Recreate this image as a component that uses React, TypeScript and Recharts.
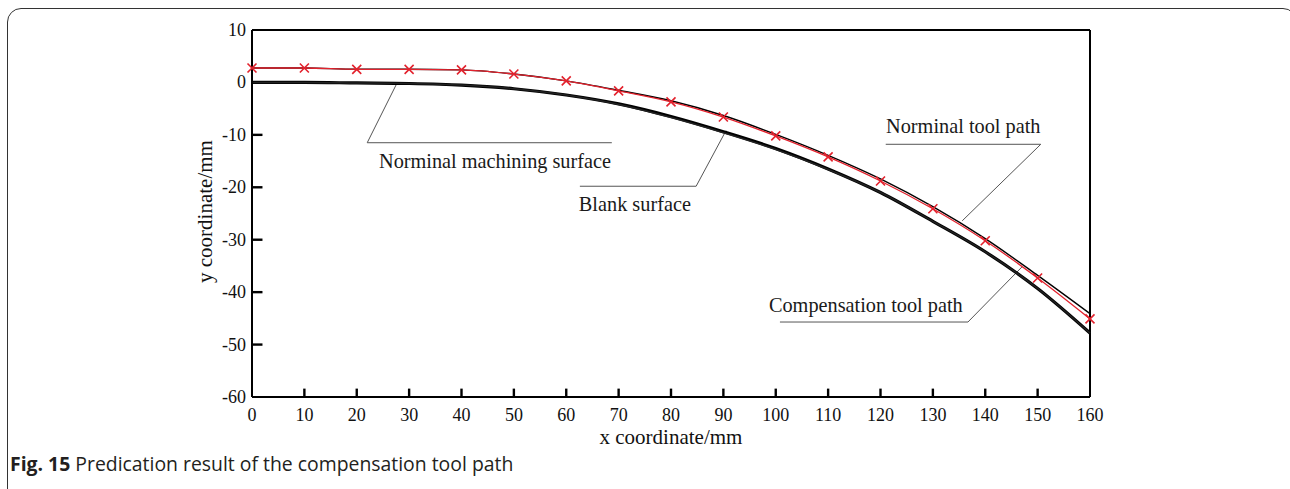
import { LineChart, Line, XAxis, YAxis, ReferenceLine, ReferenceDot, Label } from 'recharts'

const xValues = [0, 10, 20, 30, 40, 50, 60, 70, 80, 90, 100, 110, 120, 130, 140, 150, 160]
const xTicks = [0, 10, 20, 30, 40, 50, 60, 70, 80, 90, 100, 110, 120, 130, 140, 150, 160]
const yTicks = [10, 0, -10, -20, -30, -40, -50, -60]

// Norminal tool path (thin black)
const nominalToolPath = [2.75, 2.75, 2.5, 2.5, 2.4, 1.6, 0.3, -1.5, -3.5, -6.3, -9.9, -13.9, -18.4, -23.7, -29.8, -36.8, -44.1]
// Compensation tool path (red, x markers)
const compensationToolPath = [2.75, 2.75, 2.5, 2.5, 2.4, 1.6, 0.3, -1.6, -3.7, -6.6, -10.2, -14.2, -18.8, -24.1, -30.2, -37.3, -45.1]
// Blank surface (thick black)
const blankSurface = [0, 0, -0.1, -0.2, -0.5, -1.2, -2.4, -4.1, -6.5, -9.4, -12.6, -16.5, -21.0, -26.5, -32.3, -39.3, -47.8]
// Norminal machining surface (almost on top of the blank surface)
const machiningSurface = [0, 0, -0.1, -0.2, -0.5, -1.2, -2.4, -4.2, -6.7, -9.6, -12.8, -16.6, -21.0, -26.5, -32.3, -39.3, -47.8]

const data = xValues.map((x, i) => ({
  x,
  nominalTool: nominalToolPath[i],
  compensation: compensationToolPath[i],
  blank: blankSurface[i],
  machining: machiningSurface[i],
}))

const xMin = 0
const xMax = 160
const yMin = -60
const yMax = 10

// leader lines and labels, in data units
const annotations = [
  {
    text: 'Norminal machining surface',
    at: { x: 46.4, y: -14.9 },
    leader: [{ x: 27.7, y: -0.1 }, { x: 22.0, y: -11.5 }, { x: 68.7, y: -11.5 }],
  },
  {
    text: 'Blank surface',
    at: { x: 73.1, y: -23.1 },
    leader: [{ x: 90.5, y: -9.2 }, { x: 84.8, y: -19.8 }, { x: 62.6, y: -19.8 }],
  },
  {
    text: 'Norminal tool path',
    at: { x: 135.8, y: -8.4 },
    leader: [{ x: 121.0, y: -11.8 }, { x: 150.6, y: -11.8 }, { x: 135.6, y: -26.4 }],
  },
  {
    text: 'Compensation tool path',
    at: { x: 117.2, y: -42.4 },
    leader: [{ x: 100.8, y: -45.7 }, { x: 136.7, y: -45.7 }, { x: 147.0, y: -35.2 }],
  },
]

const serif = '"Liberation Serif", "Times New Roman", serif'

const XTick = (props: any) => {
  const { x, y, payload } = props
  return (
    <text x={x} y={y + 18} textAnchor="middle" dominantBaseline="central" fontSize={18} fontFamily={serif} fill="#111">
      {payload.value}
    </text>
  )
}

const YTick = (props: any) => {
  const { x, y, payload } = props
  return (
    <text x={x - 6} y={y} textAnchor="end" dominantBaseline="central" fontSize={18} fontFamily={serif} fill="#111">
      {payload.value}
    </text>
  )
}

const cross = (props: any) => {
  const { cx, cy, index } = props
  const s = 4.5
  return (
    <path
      key={`cross-${index}`}
      d={`M${cx - s},${cy - s}L${cx + s},${cy + s}M${cx - s},${cy + s}L${cx + s},${cy - s}`}
      stroke="#e3222d"
      strokeWidth={1.6}
      fill="none"
    />
  )
}

export default function App() {
  return (
    <div style={{ position: 'relative', width: 1290, height: 489, overflow: 'hidden', background: '#fff' }}>
      <style>{`body { margin: 0; }`}</style>
      <div
        style={{
          position: 'absolute',
          left: 7,
          top: 8,
          width: 1290,
          height: 500,
          border: '1.5px solid #333',
          borderRadius: 14,
          boxSizing: 'border-box',
        }}
      />
      <div style={{ position: 'absolute', left: 0, top: 0 }}>
        <LineChart width={1290} height={489} data={data} margin={{ top: 30, right: 200, bottom: 0, left: 0 }}>
          <XAxis
            dataKey="x"
            type="number"
            domain={[xMin, xMax]}
            ticks={xTicks}
            height={92}
            tickSize={0}
            tickMargin={0}
            tickLine={false}
            axisLine={{ stroke: '#000', strokeWidth: 2 }}
            tick={<XTick />}
            interval={0}
          >
            <Label
              content={(p: any) => {
                const vb = p.viewBox
                return (
                  <text x={vb.x + vb.width / 2} y={vb.y + 40} textAnchor="middle" dominantBaseline="central" fontSize={21} fontFamily={serif} fill="#111">
                    x coordinate/mm
                  </text>
                )
              }}
            />
          </XAxis>
          <YAxis
            type="number"
            domain={[yMin, yMax]}
            ticks={yTicks}
            width={252}
            tickSize={0}
            tickMargin={0}
            tickLine={false}
            axisLine={{ stroke: '#000', strokeWidth: 2 }}
            tick={<YTick />}
            interval={0}
          >
            <Label
              content={(p: any) => {
                const vb = p.viewBox
                const cx = vb.x + vb.width - 47
                const cy = vb.y + vb.height / 2 - 2
                return (
                  <text x={cx} y={cy} transform={`rotate(-90 ${cx} ${cy})`} textAnchor="middle" dominantBaseline="central" fontSize={21} fontFamily={serif} fill="#111">
                    y coordinate/mm
                  </text>
                )
              }}
            />
          </YAxis>
          {/* top and right sides of the frame */}
          <ReferenceLine y={yMax} stroke="#000" strokeWidth={2} ifOverflow="visible" />
          <ReferenceLine x={xMax} stroke="#000" strokeWidth={2} ifOverflow="visible" />
          {/* inward tick marks */}
          {xTicks.slice(1, -1).map(v => (
            <ReferenceLine
              key={`xt-${v}`}
              segment={[{ x: v, y: yMin }, { x: v, y: yMin + 1.6 }]}
              stroke="#000"
              strokeWidth={2.4}
              ifOverflow="visible"
            />
          ))}
          {yTicks.slice(1, -1).map(v => (
            <ReferenceLine
              key={`yt-${v}`}
              segment={[{ x: xMin, y: v }, { x: xMin + 2, y: v }]}
              stroke="#000"
              strokeWidth={2.4}
              ifOverflow="visible"
            />
          ))}
          {annotations.map((a, i) =>
            a.leader.slice(1).map((pt, j) => (
              <ReferenceLine
                key={`lead-${i}-${j}`}
                segment={[a.leader[j], pt]}
                stroke="#555"
                strokeWidth={1}
                ifOverflow="visible"
              />
            ))
          )}
          {annotations.map((a, i) => (
            <ReferenceDot
              key={`txt-${i}`}
              x={a.at.x}
              y={a.at.y}
              ifOverflow="visible"
              shape={(p: any) => (
                <text x={p.cx} y={p.cy} textAnchor="middle" dominantBaseline="central" fontSize={20.3} fontFamily={serif} fill="#1a1a1a">
                  {a.text}
                </text>
              )}
            />
          ))}
          <Line type="monotone" dataKey="blank" stroke="#000" strokeWidth={3.2} dot={false} isAnimationActive={false} />
          <Line type="monotone" dataKey="machining" stroke="#222" strokeWidth={1.5} dot={false} isAnimationActive={false} />
          <Line type="monotone" dataKey="nominalTool" stroke="#000" strokeWidth={1.4} dot={false} isAnimationActive={false} />
          <Line type="monotone" dataKey="compensation" stroke="#e3222d" strokeWidth={1.3} dot={cross} isAnimationActive={false} />
        </LineChart>
      </div>
      <div
        style={{
          position: 'absolute',
          left: 10,
          top: 450,
          fontFamily: '"Open Sans", "Noto Sans", sans-serif',
          fontSize: 19.4,
          color: '#231f20',
          whiteSpace: 'nowrap',
        }}
      >
        <b>Fig. 15</b> Predication result of the compensation tool path
      </div>
    </div>
  )
}
